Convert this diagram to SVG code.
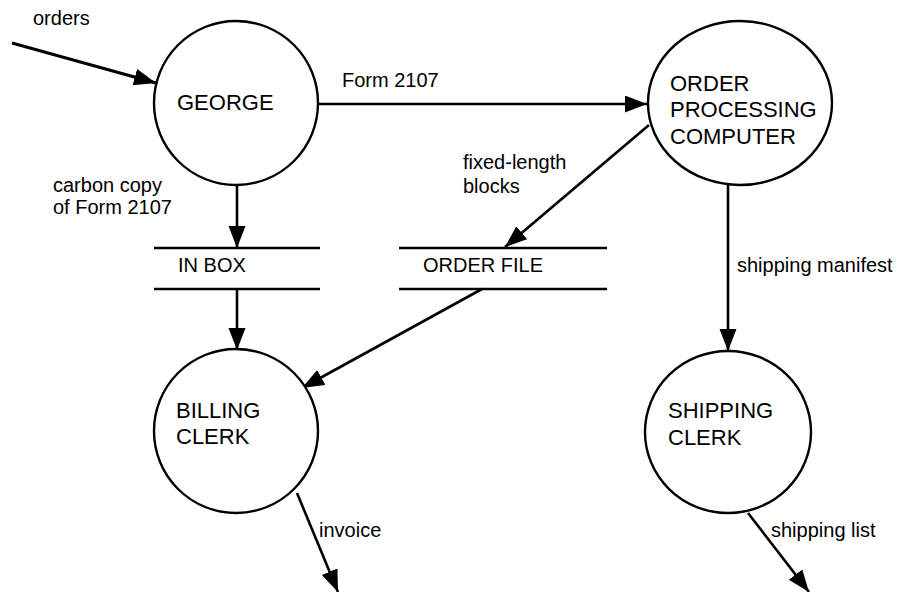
<svg xmlns="http://www.w3.org/2000/svg" width="900" height="592" viewBox="0 0 900 592">
  <defs>
    <style>
      .node { fill: #fff; stroke: #000; stroke-width: 2.4; }
      .store { stroke: #000; stroke-width: 2.4; }
      .nt { font-family: "Liberation Sans", Arial, sans-serif; font-size: 22px; fill: #000; }
      .lt { font-family: "Liberation Sans", Arial, sans-serif; font-size: 20px; fill: #000; }
      .edge { fill: none; stroke: #000; stroke-width: 2.6; marker-end: url(#arrow); }
    </style>
    <marker id="arrow" markerUnits="userSpaceOnUse" markerWidth="23" markerHeight="18" refX="22" refY="8.5" orient="auto">
      <path d="M0,0 L22,8.5 L0,17 z" fill="#000"/>
    </marker>
  </defs>
  <rect width="900" height="592" fill="#fff"/>

  <g id="connectors">
    <line class="edge" x1="12" y1="43" x2="156" y2="83" style="stroke-width:3.2"/>
    <line class="edge" x1="318" y1="104" x2="647" y2="104"/>
    <line class="edge" x1="237" y1="185" x2="237" y2="248"/>
    <line class="edge" x1="237" y1="289" x2="237" y2="350"/>
    <line class="edge" x1="649" y1="125" x2="505" y2="247"/>
    <line class="edge" x1="482" y1="289" x2="302" y2="388"/>
    <line class="edge" x1="728" y1="185" x2="728" y2="351"/>
    <line class="edge" x1="297" y1="493" x2="338" y2="592"/>
    <line class="edge" x1="748" y1="513" x2="809" y2="592"/>
  </g>

  <g id="george">
    <circle class="node" cx="236" cy="103" r="82"/>
    <text class="nt" x="177" y="110">GEORGE</text>
  </g>

  <g id="order-processing-computer">
    <ellipse class="node" cx="740" cy="103" rx="92" ry="82"/>
    <text class="nt" x="670" y="91">ORDER</text>
    <text class="nt" x="670" y="117">PROCESSING</text>
    <text class="nt" x="670" y="144">COMPUTER</text>
  </g>

  <g id="in-box">
    <line class="store" x1="154" y1="248" x2="320" y2="248"/>
    <line class="store" x1="154" y1="289" x2="320" y2="289"/>
    <text class="lt" x="178" y="272">IN BOX</text>
  </g>

  <g id="order-file">
    <line class="store" x1="399" y1="248" x2="607" y2="248"/>
    <line class="store" x1="399" y1="289" x2="607" y2="289"/>
    <text class="lt" x="423" y="272">ORDER FILE</text>
  </g>

  <g id="billing-clerk">
    <circle class="node" cx="236" cy="431" r="82"/>
    <text class="nt" x="176" y="418">BILLING</text>
    <text class="nt" x="176" y="444">CLERK</text>
  </g>

  <g id="shipping-clerk">
    <ellipse class="node" cx="728" cy="432" rx="83" ry="81"/>
    <text class="nt" x="668" y="418">SHIPPING</text>
    <text class="nt" x="668" y="445">CLERK</text>
  </g>

  <g id="labels">
    <text class="lt" x="33" y="25">orders</text>
    <text class="lt" x="342" y="87">Form 2107</text>
    <text class="lt" x="463" y="169">fixed-length</text>
    <text class="lt" x="463" y="193">blocks</text>
    <text class="lt" x="53" y="192">carbon copy</text>
    <text class="lt" x="53" y="214">of Form 2107</text>
    <text class="lt" x="737" y="272">shipping manifest</text>
    <text class="lt" x="319" y="537">invoice</text>
    <text class="lt" x="771" y="537">shipping list</text>
  </g>
</svg>
